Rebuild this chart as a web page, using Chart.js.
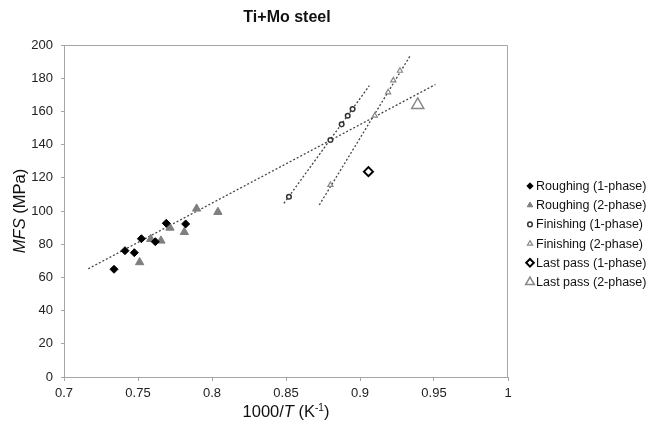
<!DOCTYPE html>
<html><head><meta charset="utf-8">
<script src="https://cdn.jsdelivr.net/npm/chart.js@4/dist/chart.umd.min.js"></script>
<style>html,body{margin:0;padding:0;background:#fff}#wrap{width:653px;height:425px}</style>
</head><body><div id="wrap"><canvas id="c" width="653" height="425"></canvas></div>
<script>
const chartTitle = "Ti+Mo steel";
const xTicks = [0.7, 0.75, 0.8, 0.85, 0.9, 0.95, 1];
const yTicks = [0, 20, 40, 60, 80, 100, 120, 140, 160, 180, 200];
const seriesNames = ["Roughing (1-phase)", "Roughing (2-phase)", "Finishing (1-phase)", "Finishing (2-phase)", "Last pass (1-phase)", "Last pass (2-phase)"];

const roughing1X = [0.7338, 0.7412, 0.7475, 0.7523, 0.7617, 0.7691, 0.7822];
const roughing1Y = [64.9, 76.1, 74.9, 83.3, 81.5, 92.6, 92.2];
const roughing2X = [0.7511, 0.7586, 0.7655, 0.7716, 0.7813, 0.7896, 0.8040];
const roughing2Y = [69.1, 83.1, 82.1, 89.9, 87.3, 101.4, 99.4];
const finishing1X = [0.852, 0.880, 0.8876, 0.8917, 0.895];
const finishing1Y = [108.6, 142.8, 152.2, 157.4, 161.4];
const finishing2X = [0.880, 0.910, 0.919, 0.9225, 0.927];
const finishing2Y = [115.7, 157.4, 171.5, 178.7, 184.5];
const lastPass1X = [0.9057];
const lastPass1Y = [123.7];
const lastPass2X = [0.939];
const lastPass2Y = [163.9];

// dotted trend lines (end points)
const trendRoughX = [0.7164, 0.951];
const trendRoughY = [65.2, 176.2];
const trendFin1X = [0.8486, 0.9063];
const trendFin1Y = [104.6, 175.5];
const trendFin2X = [0.8725, 0.9338];
const trendFin2Y = [103.6, 193.4];

const pts = (xs, ys) => xs.map((x, i) => ({x: x, y: ys[i]}));

const styles = [
  {pointStyle: 'rectRot', radius: 4, bg: '#000', border: '#000', bw: 1},
  {pointStyle: 'triangle', radius: 4.8, bg: '#7f7f7f', border: '#7f7f7f', bw: 1},
  {pointStyle: 'circle', radius: 2.3, bg: '#fff', border: '#333', bw: 1.5},
  {pointStyle: 'triangle', radius: 3, bg: '#fff', border: '#888', bw: 1.2},
  {pointStyle: 'rectRot', radius: 4.5, bg: '#fff', border: '#000', bw: 2},
  {pointStyle: 'triangle', radius: 7, bg: '#fff', border: '#888', bw: 1.5}
];
const seriesData = [pts(roughing1X, roughing1Y), pts(roughing2X, roughing2Y), pts(finishing1X, finishing1Y), pts(finishing2X, finishing2Y), pts(lastPass1X, lastPass1Y), pts(lastPass2X, lastPass2Y)];

const datasets = seriesData.map((d, i) => ({
  label: seriesNames[i], data: d, showLine: false,
  pointStyle: styles[i].pointStyle, pointRadius: styles[i].radius, pointHoverRadius: styles[i].radius,
  pointBackgroundColor: styles[i].bg, pointBorderColor: styles[i].border, pointBorderWidth: styles[i].bw,
  backgroundColor: styles[i].bg, borderColor: styles[i].border, order: 1
}));
[[trendRoughX, trendRoughY], [trendFin1X, trendFin1Y], [trendFin2X, trendFin2Y]].forEach(t => {
  datasets.push({label: '', trend: true, data: pts(t[0], t[1]), showLine: true, pointRadius: 0,
    borderColor: '#444', borderWidth: 1.3, borderDash: [2, 2], fill: false, order: 2});
});

const FAM = '"Liberation Sans", Arial, sans-serif';
const overlay = {
  id: 'overlay',
  beforeDatasetsDraw(chart) {
    const a = chart.chartArea, ctx = chart.ctx;
    ctx.save();
    ctx.strokeStyle = '#a6a6a6'; ctx.lineWidth = 1;
    ctx.beginPath();
    ctx.moveTo(a.left + 0.5, a.top + 0.5); ctx.lineTo(a.right - 0.5, a.top + 0.5); ctx.lineTo(a.right - 0.5, a.bottom);
    ctx.stroke();
    ctx.restore();
  },
  afterDraw(chart) {
    const a = chart.chartArea, ctx = chart.ctx;
    ctx.save();
    ctx.fillStyle = '#111';
    // title
    ctx.font = 'bold 16px ' + FAM;
    ctx.textAlign = 'center'; ctx.textBaseline = 'middle';
    ctx.fillText(chartTitle, (a.left + a.right) / 2 + 1, 18);
    // x title: 1000/T (K-1)
    const cx = (a.left + a.right) / 2;
    const fN = '16.5px ' + FAM;
    const fI = 'italic 16.5px ' + FAM;
    const fS = '10px ' + FAM;
    const parts = [["1000/", fN, 0], ["T", fI, 0], [" (K", fN, 0], ["-1", fS, -6], [")", fN, 0]];
    let w = 0; parts.forEach(p => { ctx.font = p[1]; w += ctx.measureText(p[0]).width; });
    let x = cx - w / 2; const yb = 417;
    ctx.textAlign = 'left'; ctx.textBaseline = 'alphabetic';
    parts.forEach(p => { ctx.font = p[1]; ctx.fillText(p[0], x, yb + p[2]); x += ctx.measureText(p[0]).width; });
    // y title: MFS (MPa)
    ctx.translate(19, (a.top + a.bottom) / 2);
    ctx.rotate(-Math.PI / 2);
    const yparts = [["MFS", fI], [" (MPa)", fN]];
    w = 0; yparts.forEach(p => { ctx.font = p[1]; w += ctx.measureText(p[0]).width; });
    x = -w / 2;
    yparts.forEach(p => { ctx.font = p[1]; ctx.fillText(p[0], x, 6); x += ctx.measureText(p[0]).width; });
    ctx.restore();
    // legend
    ctx.save();
    const lx = 530, ly0 = 186, dy = 19.2;
    seriesNames.forEach((name, i) => {
      const s = styles[i], y = ly0 + i * dy;
      ctx.fillStyle = s.bg; ctx.strokeStyle = s.border; ctx.lineWidth = s.bw;
      Chart.helpers.drawPoint(ctx, {pointStyle: s.pointStyle, radius: (i === 5 ? 5 : (i === 4 ? 3.8 : Math.min(s.radius, 3.2))), borderWidth: s.bw, rotation: 0}, lx, y);
      ctx.fillStyle = '#111';
      ctx.font = '12.5px ' + FAM;
      ctx.textAlign = 'left'; ctx.textBaseline = 'middle';
      ctx.fillText(name, lx + 6, y + 0.5);
    });
    ctx.restore();
  }
};

new Chart(document.getElementById('c'), {
  type: 'scatter',
  data: {datasets: datasets},
  options: {
    responsive: false, animation: false, devicePixelRatio: 1,
    layout: {padding: {top: 45, right: 145, left: 0, bottom: 0}},
    plugins: {legend: {display: false}, title: {display: false}, tooltip: {enabled: false}},
    scales: {
      x: {
        type: 'linear', min: 0.7, max: 1,
        afterBuildTicks: s => { s.ticks = xTicks.map(v => ({value: v})); },
        afterFit: s => { s.height = 48; },
        ticks: {color: '#222', font: {size: 13, family: FAM}, padding: 5, maxRotation: 0,
          callback: v => String(Math.round(v * 100) / 100)},
        grid: {drawOnChartArea: false, drawTicks: true, tickLength: 4, color: '#a6a6a6'},
        border: {color: '#a6a6a6', width: 1}
      },
      y: {
        type: 'linear', min: 0, max: 200,
        afterBuildTicks: s => { s.ticks = yTicks.map(v => ({value: v})); },
        afterFit: s => { s.width = 64; },
        ticks: {color: '#222', font: {size: 13, family: FAM}, padding: 8},
        grid: {drawOnChartArea: false, drawTicks: true, tickLength: 3, color: '#a6a6a6'},
        border: {color: '#a6a6a6', width: 1}
      }
    }
  },
  plugins: [overlay]
});
</script></body></html>
